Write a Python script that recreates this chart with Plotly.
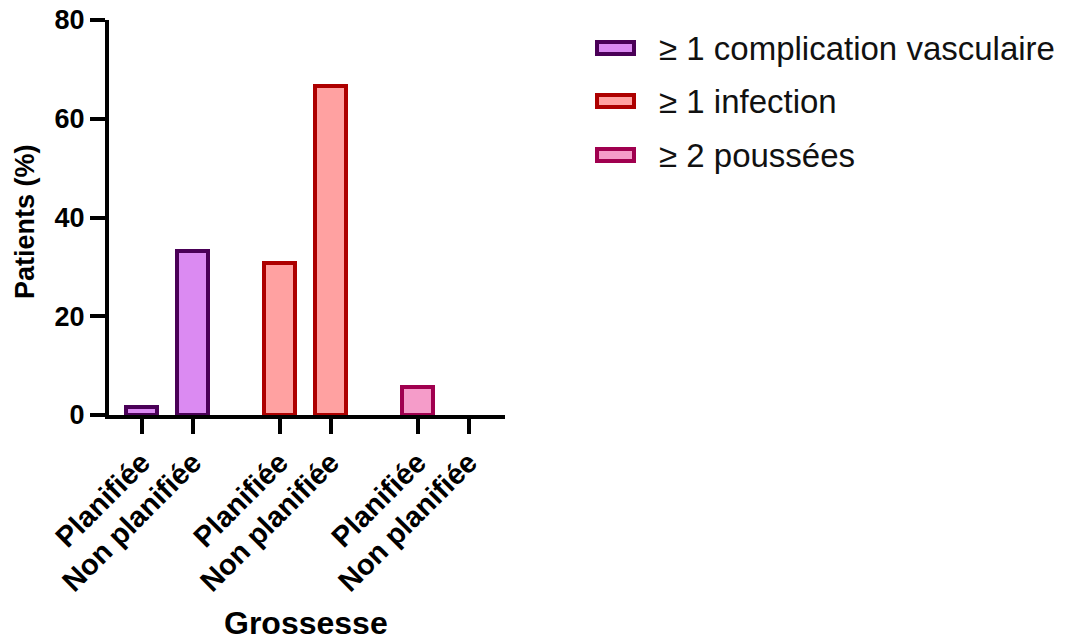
import plotly.graph_objects as go

# ---- data ----
categories = ["Planifiée", "Non planifiée"]
series_names = ["≥ 1 complication vasculaire", "≥ 1 infection", "≥ 2 poussées"]
vasculaire = [1.6, 33.3]
infection = [30.8, 66.7]
poussees = [5.6, 0.0]
y_ticks = [0, 20, 40, 60, 80]
x_title = "Grossesse"
y_title = "Patients (%)"

# ---- styles ----
fills = ["#DB8AF2", "#FFA1A1", "#F59CC9"]
borders = ["#4A0057", "#AD0000", "#A0004F"]
group_pos = [[0, 1], [2.7, 3.7], [5.4, 6.4]]
FONT = "Liberation Sans, Arial, sans-serif"
W, H = 1067, 644
PL, PR, PT, PB = 109, 505, 20, 415  # plot area in pixels


def px_x(x):
    return (x - PL) / (PR - PL)


def px_y(y):
    return (PB - y) / (PB - PT)


fig = go.Figure()
all_vals = [vasculaire, infection, poussees]
tickvals, ticktext = [], []
for i, (name, vals) in enumerate(zip(series_names, all_vals)):
    fig.add_trace(go.Bar(
        x=group_pos[i], y=vals, name=name, width=0.6,
        marker=dict(color=fills[i],
                    line=dict(color=borders[i], width=[4 if v > 0 else 0 for v in vals])),
        showlegend=False,
    ))
    tickvals += group_pos[i]
    ticktext += categories

# custom legend (shapes + text in paper coords)
leg_x0, leg_x1 = 597, 634
leg_rows = [48, 101, 155]
for i, name in enumerate(series_names):
    yc = leg_rows[i]
    fig.add_shape(type="rect", xref="paper", yref="paper",
                  x0=px_x(leg_x0), x1=px_x(leg_x1),
                  y0=px_y(yc + 6), y1=px_y(yc - 6),
                  fillcolor=fills[i], line=dict(color=borders[i], width=4))
    fig.add_annotation(xref="paper", yref="paper",
                       x=px_x(657), y=px_y(yc),
                       text=name, showarrow=False, xanchor="left", yanchor="middle",
                       font=dict(family=FONT, size=33, color="#111111"))

# axis titles
fig.add_annotation(xref="paper", yref="paper", x=px_x(306), y=px_y(623),
                   text=x_title, showarrow=False, xanchor="center", yanchor="middle",
                   font=dict(family=FONT, size=32, color="black", weight="bold"))
fig.add_annotation(xref="paper", yref="paper", x=px_x(25), y=px_y(222),
                   text=y_title, showarrow=False, xanchor="center", yanchor="middle",
                   textangle=-90,
                   font=dict(family=FONT, size=27, color="black", weight="bold"))

fig.update_layout(
    width=W, height=H,
    margin=dict(l=PL, r=W - PR, t=PT, b=H - PB, autoexpand=False),
    plot_bgcolor="white", paper_bgcolor="white",
    font=dict(family=FONT, color="black"),
    bargap=0,
)
fig.update_xaxes(
    range=[-0.64, 7.11], tickmode="array", tickvals=tickvals, ticktext=ticktext,
    tickangle=-45, ticks="outside", ticklen=15, tickwidth=4, tickcolor="black",
    showline=True, linewidth=4, linecolor="black", showgrid=False, zeroline=False,
    automargin=False,
    tickfont=dict(family=FONT, size=29, color="black", weight="bold"),
)
fig.update_yaxes(
    range=[0, 80], tickmode="array", tickvals=y_ticks,
    ticks="outside", ticklen=15, tickwidth=4, tickcolor="black",
    showline=True, linewidth=4, linecolor="black", showgrid=False, zeroline=False,
    automargin=False,
    tickfont=dict(family=FONT, size=27, color="black", weight="bold"),
)

fig.write_html("out.html", config={"displayModeBar": False},
               post_script="document.body.style.margin='0';")
